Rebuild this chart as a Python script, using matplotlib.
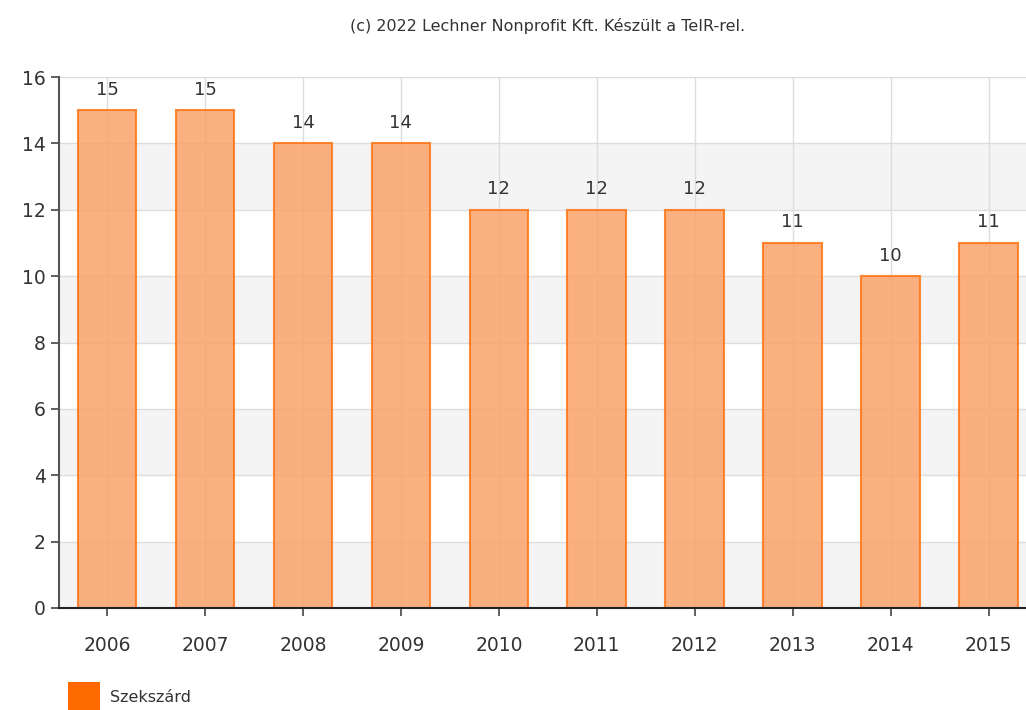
import matplotlib
matplotlib.use("Agg")
import matplotlib.pyplot as plt
from matplotlib.patches import Rectangle

# data
years = ["2006", "2007", "2008", "2009", "2010", "2011", "2012", "2013", "2014", "2015"]
values = [15, 15, 14, 14, 12, 12, 12, 11, 10, 11]
series_name = "Szekszárd"

plt.rcParams['font.family'] = ['DejaVu Sans']

fig = plt.figure(figsize=(10.26, 7.10), dpi=100)
ax = fig.add_axes([0.0575, 0.1437, 0.9425, 0.7478])

x = list(range(len(years)))

# alternating bands
for lo in range(0, 16, 4):
    ax.axhspan(lo, lo + 2, color="#f4f4f4", zorder=0, lw=0)

ax.set_ylim(0, 16)
ax.set_xlim(-0.49, 9.38)
ax.set_yticks(range(0, 17, 2))
ax.set_xticks(x)
ax.set_xticklabels(years)

ax.grid(True, color="#dddddd", lw=1, zorder=1)
ax.set_axisbelow(True)

bars = ax.bar(x, values, width=0.6, color="#fba36a", alpha=0.85,
              edgecolor="#ff7414", linewidth=1.5, zorder=2)

for xi, v in zip(x, values):
    ax.text(xi, v + 0.35, str(v), ha="center", va="bottom", fontsize=13, color="#333333")

for s in ["top", "right"]:
    ax.spines[s].set_visible(False)
ax.spines["left"].set_color("#555555")
ax.spines["left"].set_linewidth(1.5)
ax.spines["bottom"].set_color("#222222")
ax.spines["bottom"].set_linewidth(1.5)
ax.tick_params(axis="both", labelsize=13.5, labelcolor="#333333", color="#444444", length=6, width=1.2)
ax.tick_params(axis="x", pad=14)

fig.text(0.534, 0.963, "(c) 2022 Lechner Nonprofit Kft. Készült a TeIR-rel.",
         ha="center", va="center", fontsize=11.5, color="#333333")

# legend
fig.patches.append(Rectangle((68 / 1026, 0), 32 / 1026, 28 / 710, transform=fig.transFigure,
                             facecolor="#ff6a00", edgecolor="none"))
fig.text(110 / 1026, 12 / 710, series_name, ha="left", va="center", fontsize=11.5, color="#333333")

fig.savefig("out.png", dpi=100)
